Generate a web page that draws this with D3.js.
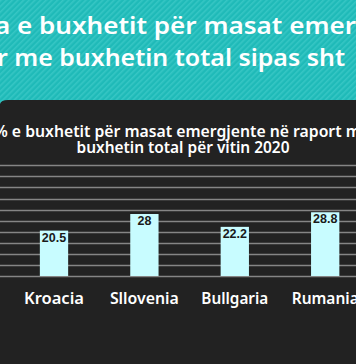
<!DOCTYPE html>
<html>
<head>
<meta charset="utf-8">
<script src="https://cdn.jsdelivr.net/npm/d3@7"></script>
<style>
  html, body { margin: 0; padding: 0; background: #222222; }
  svg { display: block; }
</style>
</head>
<body>
<script>
// ---- data ----
const categories = ["Kroacia", "Sllovenia", "Bullgaria", "Rumania"];
const values = [20.5, 28, 22.2, 28.8];
const gridTicks = [0, 5, 10, 15, 20, 25, 30, 35, 40, 45, 50];
const bannerLines = ["a e buxhetit për masat emer", "r me buxhetin total sipas sht"];
const chartTitleLines = ["% e buxhetit për masat emergjente në raport me", "buxhetin total për vitin 2020"];

const W = 356, H = 364;
const svg = d3.select("body").append("svg").attr("width", W).attr("height", H);

// stripe pattern for banner
const defs = svg.append("defs");
const pat = defs.append("pattern")
  .attr("id", "stripes").attr("patternUnits", "userSpaceOnUse")
  .attr("width", 4).attr("height", 4)
  .attr("patternTransform", "rotate(45)");
pat.append("rect").attr("width", 4).attr("height", 4).attr("fill", "#1fbab8");
pat.append("rect").attr("width", 1.6).attr("height", 4).attr("fill", "#36c6c4");

svg.append("rect").attr("x", 0).attr("y", 0).attr("width", W).attr("height", 110)
  .attr("fill", "url(#stripes)");

// dark panel
svg.append("path")
  .attr("d", `M0,104 Q1,100 8,100 L${W},100 L${W},${H} L0,${H} Z`)
  .attr("fill", "#222222");

// banner title
const bannerFont = "'Noto Sans', 'DejaVu Sans', sans-serif";
const bannerPos = [{x: -5, y: 34, len: 361}, {x: -3, y: 65.7, len: 348}];
svg.selectAll(".banner").data(bannerLines).join("text")
  .attr("class", "banner")
  .attr("x", (d, i) => bannerPos[i].x)
  .attr("y", (d, i) => bannerPos[i].y)
  .attr("textLength", (d, i) => bannerPos[i].len)
  .attr("lengthAdjust", "spacingAndGlyphs")
  .attr("fill", "#ffffff")
  .attr("font-family", bannerFont)
  .attr("font-weight", 600)
  .attr("font-size", 22.5)
  .text(d => d);

// chart title
const titlePos = [{x: 182, y: 136.5, len: 376}, {x: 183, y: 152.7, len: 213}];
svg.selectAll(".ctitle").data(chartTitleLines).join("text")
  .attr("class", "ctitle")
  .attr("x", (d, i) => titlePos[i].x)
  .attr("y", (d, i) => titlePos[i].y)
  .attr("text-anchor", "middle")
  .attr("textLength", (d, i) => titlePos[i].len)
  .attr("lengthAdjust", "spacingAndGlyphs")
  .attr("fill", "#ffffff")
  .attr("font-family", bannerFont)
  .attr("font-weight", 600)
  .attr("font-size", 16)
  .text(d => d);

// scales
const y = d3.scaleLinear().domain([0, 50]).range([276, 165.3]);
const x = d3.scaleBand().domain(categories)
  .range([8.8, 370.4]).paddingInner(0.687).paddingOuter(0.3435);

// gridlines
svg.append("g").selectAll("line").data(gridTicks).join("line")
  .attr("x1", 0).attr("x2", W)
  .attr("y1", d => Math.round(y(d)) + 0.5)
  .attr("y2", d => Math.round(y(d)) + 0.5)
  .attr("stroke", "#858585")
  .attr("stroke-width", 1.3);

// bars
svg.append("g").selectAll("rect").data(values).join("rect")
  .attr("x", (d, i) => x(categories[i]))
  .attr("y", d => y(d))
  .attr("width", x.bandwidth())
  .attr("height", d => y(0) - y(d))
  .attr("fill", "#c8fcff");

// value labels
svg.append("g").selectAll("text").data(values).join("text")
  .attr("x", (d, i) => x(categories[i]) + x.bandwidth() / 2)
  .attr("y", d => y(d) + 11)
  .attr("text-anchor", "middle")
  .attr("font-family", "'Liberation Sans', Arial, sans-serif")
  .attr("font-weight", "bold")
  .attr("font-size", 12.5)
  .attr("fill", "#1a1a1a")
  .text(d => d);

// category labels
const catWidths = [60, 69, 67, 67];
svg.append("g").selectAll("text").data(categories).join("text")
  .attr("x", d => x(d) + x.bandwidth() / 2)
  .attr("y", 303.5)
  .attr("text-anchor", "middle")
  .attr("textLength", (d, i) => catWidths[i])
  .attr("lengthAdjust", "spacingAndGlyphs")
  .attr("font-family", bannerFont)
  .attr("font-weight", 600)
  .attr("font-size", 15.5)
  .attr("fill", "#ffffff")
  .text(d => d);
</script>
</body>
</html>
